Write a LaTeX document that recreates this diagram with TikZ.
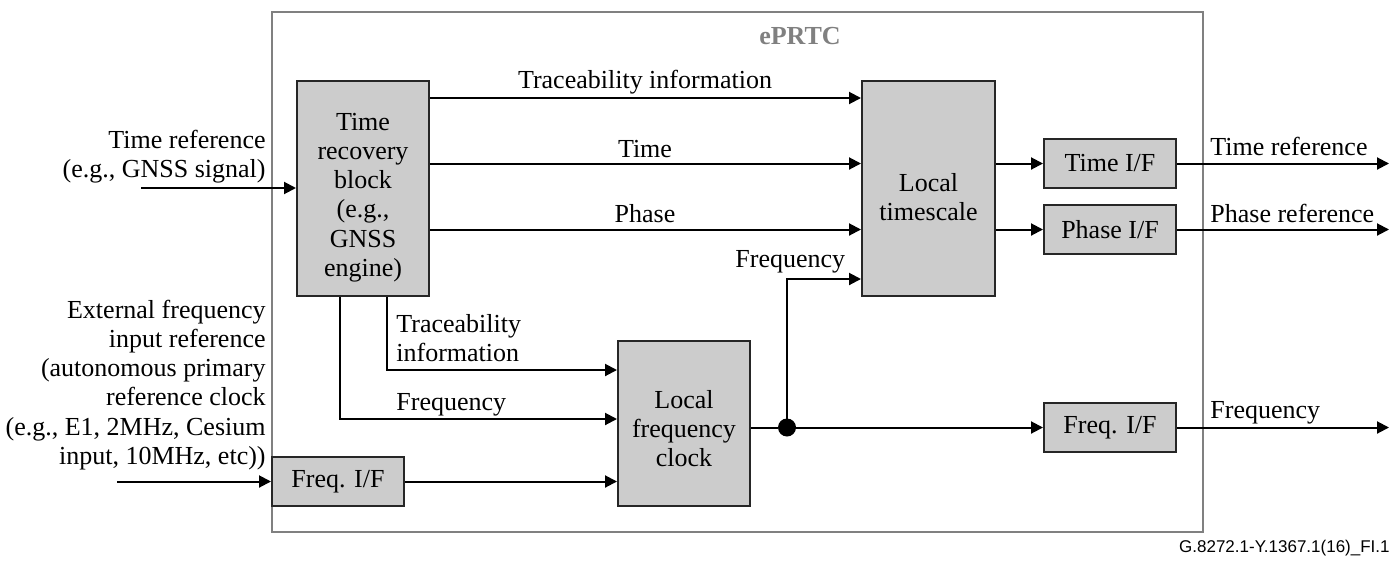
\documentclass[tikz,border=0pt]{standalone}
\usepackage{fontspec}
\setmainfont{Liberation Serif}
\newfontfamily\footfont{Liberation Sans}
\usetikzlibrary{arrows.meta,calc}
\definecolor{boxgray}{gray}{0.8}
\definecolor{framegray}{gray}{0.5}
\begin{document}
\begin{tikzpicture}[x=0.5pt,y=-0.5pt,
  font=\fontsize{13}{14.6}\selectfont,
  blk/.style={draw=black!85,line width=1pt,fill=boxgray,inner sep=0pt},
  ifbox/.style={blk,minimum width=66pt,minimum height=24.5pt},
  arr/.style={line width=1pt,-{Triangle[length=6pt,width=6pt]}},
  ln/.style={line width=1pt},
  lbl/.style={inner sep=0pt},
]
\useasboundingbox (0,0) rectangle (1396,562);
% outer frame
\node[draw=framegray,line width=0.8pt,inner sep=0pt,minimum width=465.5pt,minimum height=260pt] (outer) at (737.5,272) {};
\node[lbl,anchor=base,text=framegray,font=\fontsize{13}{14.6}\selectfont\bfseries] (title) at (800,44) {ePRTC};
% blocks
\node[blk,minimum width=66pt,minimum height=107.5pt] (trb) at (363,188.5) {};
\node[lbl,align=center] (trbt) at (363,197.5) {Time\\recovery\\block\\(e.g.,\\GNSS\\engine)};
\node[blk,minimum width=66.5pt,minimum height=107.5pt] (lt) at (928.5,188.5) {};
\node[lbl,align=center] (ltt) at (928.5,197.5) {Local\\timescale};
\node[ifbox] (tif) at (1110,163.5) {Time I/F};
\node[ifbox] (pif) at (1110,229.5) {Phase I/F};
\node[ifbox] (fifr) at (1110,427.5) {Freq. I/F};
\node[blk,minimum width=66pt,minimum height=82.5pt] (lfc) at (684,423.5) {};
\node[lbl,align=center] (lfct) at (684,428.5) {Local\\frequency\\clock};
\node[ifbox] (fifl) at (338,481.5) {Freq. I/F};
% helper coordinates
\coordinate (r1) at (0,98);
\coordinate (r2) at (0,163.5);
\coordinate (r3) at (0,229.5);
\coordinate (r4) at (0,279);
\coordinate (r5) at (0,370);
\coordinate (r6) at (0,419);
\coordinate (xa) at (340,0);
\coordinate (xb) at (387,0);
\coordinate (inT) at (141,188);
\coordinate (inF) at (117,481.5);
\coordinate (o1) at (1389,163.5);
\coordinate (o2) at (1389,229.5);
\coordinate (o3) at (1389,427.5);
% connectors
\draw[arr] (inT) -- (trb.west|-inT);
\draw[arr] (inF) -- (fifl.west);
\draw[arr] (trb.east|-r1) -- (lt.west|-r1);
\draw[arr] (trb.east|-r2) -- (lt.west|-r2);
\draw[arr] (trb.east|-r3) -- (lt.west|-r3);
\draw[arr] (trb.south-|xb) |- (lfc.west|-r5);
\draw[arr] (trb.south-|xa) |- (lfc.west|-r6);
\draw[arr] (fifl.east) -- (lfc.west|-fifl.east);
\node[circle,fill=black,inner sep=0pt,minimum size=9pt] (dot) at (787,427.5) {};
\draw[ln] (lfc.east|-dot) -- (dot);
\draw[arr] (dot) -- (fifr.west);
\draw[arr] (dot.center) |- (lt.west|-r4);
\draw[arr] (lt.east|-tif) -- (tif.west);
\draw[arr] (lt.east|-pif) -- (pif.west);
\draw[arr] (tif.east) -- (o1);
\draw[arr] (pif.east) -- (o2);
\draw[arr] (fifr.east) -- (o3);
% labels
\node[lbl,anchor=base] (l1) at (645,88) {Traceability information};
\node[lbl,anchor=base] (l2) at (645,157) {Time};
\node[lbl,anchor=base] (l3) at (645,222) {Phase};
\node[lbl,anchor=south west,align=left] (l4) at (396,362) {Traceability\\information};
\node[lbl,anchor=base west] (l5) at (396,410) {Frequency};
\node[lbl,anchor=base west] (l6) at (735,267) {Frequency};
\node[lbl,anchor=base west] (l7) at (1210,155) {Time reference};
\node[lbl,anchor=base west] (l8) at (1210,222) {Phase reference};
\node[lbl,anchor=base west] (l9) at (1210,418) {Frequency};
\node[lbl,anchor=east,align=right] (l10) at (266,157) {Time reference\\(e.g., GNSS signal)};
\node[lbl,anchor=east,align=right] (l11) at (266,385) {External frequency\\input reference\\(autonomous primary\\reference clock\\(e.g., E1, 2MHz, Cesium\\input, 10MHz, etc))};
\node[lbl,anchor=base east,font=\footfont\fontsize{8.5}{10}\selectfont] (foot) at (1390,552) {G.8272.1-Y.1367.1(16)\_FI.1};
\end{tikzpicture}
\end{document}
